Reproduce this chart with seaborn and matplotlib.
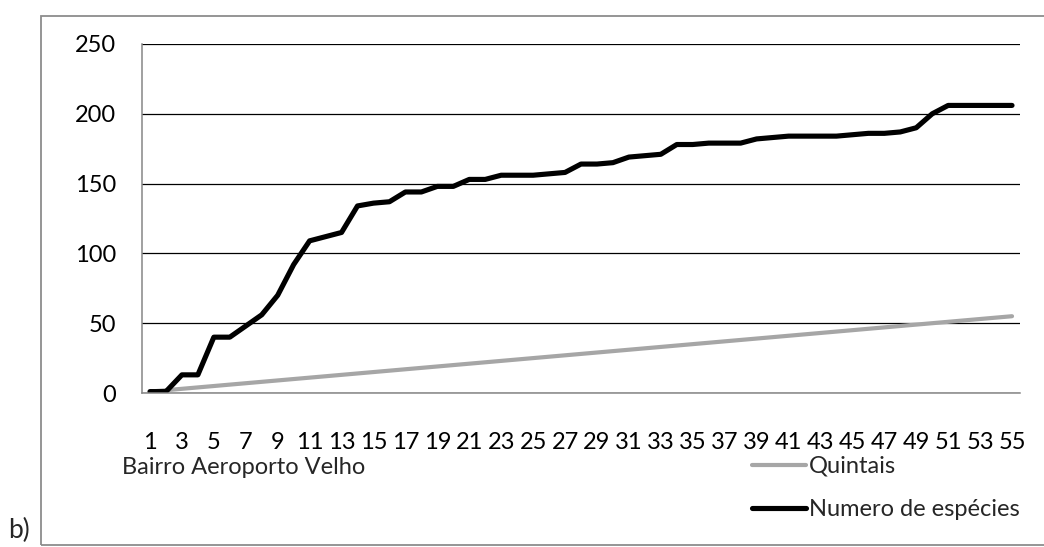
import pandas as pd
import matplotlib.pyplot as plt
import seaborn as sns
from matplotlib.patches import Rectangle

# Data
amostras = [1, 2, 3, 4, 5, 6, 7, 8, 9, 10, 11, 12, 13, 14, 15, 16, 17, 18, 19, 20,
            21, 22, 23, 24, 25, 26, 27, 28, 29, 30, 31, 32, 33, 34, 35, 36, 37, 38, 39, 40,
            41, 42, 43, 44, 45, 46, 47, 48, 49, 50, 51, 52, 53, 54, 55]
quintais = [1, 2, 3, 4, 5, 6, 7, 8, 9, 10, 11, 12, 13, 14, 15, 16, 17, 18, 19, 20,
            21, 22, 23, 24, 25, 26, 27, 28, 29, 30, 31, 32, 33, 34, 35, 36, 37, 38, 39, 40,
            41, 42, 43, 44, 45, 46, 47, 48, 49, 50, 51, 52, 53, 54, 55]
especies = [1, 1, 13, 13, 40, 40, 48, 56, 70, 92, 109, 112, 115, 134, 136, 137, 144, 144, 148, 148,
            153, 153, 156, 156, 156, 157, 158, 164, 164, 165, 169, 170, 171, 178, 178, 179, 179, 179, 182, 183,
            184, 184, 184, 184, 185, 186, 186, 187, 190, 200, 206, 206, 206, 206, 206]
y_ticks = [0, 50, 100, 150, 200, 250]

df = pd.DataFrame({"amostra": amostras, "Quintais": quintais, "Numero de espécies": especies})

sns.set_style("white")
plt.rcParams["font.family"] = ["Lato", "DejaVu Sans"]

W, H = 1044, 547
fig = plt.figure(figsize=(W / 100, H / 100), dpi=100)
ax = fig.add_axes([142 / W, 1 - 393 / H, (1020 - 142) / W, (393 - 44) / H])

axis_gray = "#868686"

ax.yaxis.grid(True, color="black", linewidth=0.9)
ax.set_axisbelow(True)

sns.lineplot(data=df, x="amostra", y="Quintais", ax=ax, color="#a6a6a6",
             linewidth=3.0, label="Quintais")
sns.lineplot(data=df, x="amostra", y="Numero de espécies", ax=ax, color="black",
             linewidth=3.7, label="Numero de espécies", solid_capstyle="round")

ax.set_xlim(0.5, 55.5)
ax.set_ylim(0, 250)
ax.set_xlabel("")
ax.set_ylabel("")

ax.set_xticks(amostras[::2])
ax.set_xticklabels([str(a) for a in amostras[::2]])
ax.set_xticks([a - 0.5 for a in amostras] + [55.5], minor=True)
ax.tick_params(axis="x", which="major", length=0, pad=28, labelsize=17)
ax.tick_params(axis="x", which="minor", length=5.5, width=1.1, color=axis_gray, direction="out")
ax.set_yticks(y_ticks)
ax.tick_params(axis="y", length=5.5, width=1.1, color=axis_gray, direction="out", pad=13, labelsize=17)
ax.tick_params(axis="both", labelcolor="black")

for s in ["top", "right"]:
    ax.spines[s].set_visible(False)
for s in ["left", "bottom"]:
    ax.spines[s].set_color(axis_gray)
    ax.spines[s].set_linewidth(1.1)

ax.legend(loc="upper left", bbox_to_anchor=(752 / W, 1 - 456 / H), bbox_transform=fig.transFigure,
          frameon=False, fontsize=17, handlelength=2.3, handletextpad=0.1, labelspacing=0.95,
          borderpad=0, borderaxespad=0)

fig.text(122 / W, 1 - 468 / H, "Bairro Aeroporto Velho", fontsize=17, va="center", ha="left")
fig.text(8 / W, 1 - 530 / H, "b)", fontsize=19, va="center", ha="left")

fig.add_artist(Rectangle((41 / W, 1 - 545 / H), 1.1, (545 - 16) / H, transform=fig.transFigure,
                         fill=False, edgecolor="#8c8c8c", linewidth=1.3))

fig.savefig("out.png", dpi=100)
